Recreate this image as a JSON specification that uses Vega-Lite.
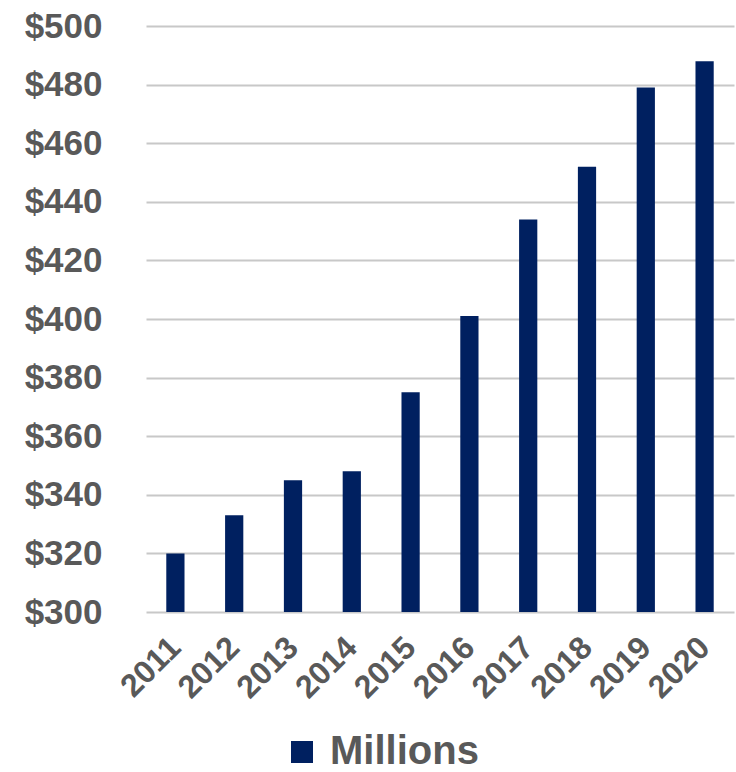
{
  "$schema": "https://vega.github.io/schema/vega-lite/v6.json",
  "autosize": "none",
  "width": 588,
  "height": 586,
  "padding": {"left": 146, "top": 26, "right": 2, "bottom": 160},
  "background": "white",
  "data": {
    "values": [
      {"year": "2011", "value": 320, "series": "Millions"},
      {"year": "2012", "value": 333, "series": "Millions"},
      {"year": "2013", "value": 345, "series": "Millions"},
      {"year": "2014", "value": 348, "series": "Millions"},
      {"year": "2015", "value": 375, "series": "Millions"},
      {"year": "2016", "value": 401, "series": "Millions"},
      {"year": "2017", "value": 434, "series": "Millions"},
      {"year": "2018", "value": 452, "series": "Millions"},
      {"year": "2019", "value": 479, "series": "Millions"},
      {"year": "2020", "value": 488, "series": "Millions"}
    ]
  },
  "config": {
    "view": {"stroke": null},
    "font": "Liberation Sans"
  },
  "mark": {"type": "bar", "clip": true},
  "encoding": {
    "x": {
      "field": "year",
      "type": "ordinal",
      "scale": {"paddingInner": 0.69, "paddingOuter": 0.345},
      "axis": {
        "title": null,
        "domain": false,
        "ticks": false,
        "labelAngle": -45,
        "labelAlign": "right",
        "labelBaseline": "middle",
        "labelPadding": 30,
        "labelFont": "Liberation Sans",
        "labelFontWeight": "bold",
        "labelFontSize": 32,
        "labelColor": "#595959"
      }
    },
    "y": {
      "field": "value",
      "type": "quantitative",
      "scale": {"domain": [300, 500], "zero": false, "nice": false},
      "axis": {
        "title": null,
        "domain": false,
        "ticks": false,
        "values": [300, 320, 340, 360, 380, 400, 420, 440, 460, 480, 500],
        "labelExpr": "'$' + datum.value",
        "labelPadding": 44,
        "labelFont": "Liberation Sans",
        "labelFontWeight": "bold",
        "labelFontSize": 35,
        "labelColor": "#595959",
        "grid": true,
        "gridColor": "#c8c8c8",
        "gridWidth": 2
      }
    },
    "color": {
      "field": "series",
      "type": "nominal",
      "scale": {"range": ["#002060"]},
      "legend": {
        "title": null,
        "orient": "none",
        "legendX": 136,
        "legendY": 706,
        "symbolType": "square",
        "symbolSize": 484,
        "symbolStrokeWidth": 0,
        "labelFont": "Liberation Sans",
        "labelFontWeight": "bold",
        "labelFontSize": 40,
        "labelColor": "#595959",
        "labelOffset": 8
      }
    }
  }
}
